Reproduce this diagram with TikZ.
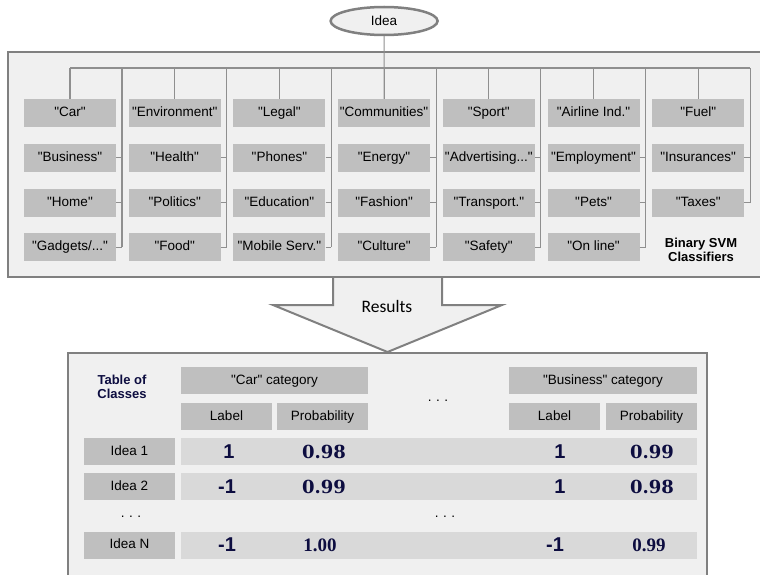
\documentclass[tikz,border=0pt]{standalone}
\usepackage{fontspec}
\setmainfont{Liberation Sans}
\newfontfamily\resfont{Carlito}
\newfontfamily\numfont{DejaVu Serif}
\newfontfamily\numfontb{Liberation Serif}
\usepackage{tikz}
\usetikzlibrary{positioning}
\usetikzlibrary{shapes.geometric}
\newcommand{\tdots}{...}
\newcommand{\qt}[1]{\textquotedbl#1\textquotedbl}
\definecolor{mgray}{rgb}{0.5, 0.5, 0.5}
\definecolor{mline}{rgb}{0.56, 0.56, 0.56}
\definecolor{mpanel}{rgb}{0.94, 0.94, 0.94}
\definecolor{mbox}{rgb}{0.75, 0.75, 0.75}
\definecolor{mband}{rgb}{0.85, 0.85, 0.85}
\definecolor{mnavy}{rgb}{0.05, 0.05, 0.25}
\tikzset{panel/.style = {draw=mgray, fill=mpanel, line width=2.5pt},
         tree/.style = {draw=mline, line width=1.1pt},
         catbox/.style = {fill=mbox, minimum width=92pt, minimum height=28pt,
                          inner sep=0pt, text height=10pt, text depth=3pt,
                          font=\fontsize{13.5}{15}\selectfont},
         tabbox/.style = {catbox, minimum width=91pt, minimum height=27pt},
         valband/.style = {fill=mband, minimum width=516pt, minimum height=27pt, inner sep=0pt},
         labnum/.style = {text=mnavy, font=\fontsize{20}{22}\selectfont\bfseries},
         probnum/.style = {text=mnavy, font=\fontsize{18}{20}\numfont\bfseries},
         dots/.style = {font=\fontsize{13.5}{15}\selectfont}}

\begin{document}
\begin{tikzpicture}[x=1pt, y=-1pt]
      \useasboundingbox (0, 0) rectangle (760, 575);

      % classifier panel
      \draw [panel] (8, 52) rectangle (780, 277);
      \node [ellipse, draw=mgray, fill=mpanel, line width=2.5pt, minimum width=107pt,
             minimum height=28pt, font=\fontsize{13.5}{15}\selectfont] (idea) at (384.1, 21) {Idea};

      \foreach \i/\a/\b/\c/\d [evaluate=\i as \cx using 70+(\i-1)*104.7] in
          {1/Car/Business/Home/{Gadgets/\tdots},
           2/Environment/Health/Politics/Food,
           3/Legal/Phones/Education/Mobile Serv.,
           4/Communities/Energy/Fashion/Culture,
           5/Sport/Advertising\tdots/Transport./Safety,
           6/Airline Ind./Employment/Pets/On line} {
        \coordinate (t\i) at (\cx+52, 68);
        \draw [tree] (t\i) -- (\cx+52, 247.4);
        \node [catbox] (c\i1) at (\cx, 113) {\qt{\a}};
        \node [catbox] (c\i2) at (\cx, 157.8) {\qt{\b}};
        \node [catbox] (c\i3) at (\cx, 202.6) {\qt{\c}};
        \node [catbox] (c\i4) at (\cx, 247.4) {\qt{\d}};
        \draw [tree] (c\i1.north) -- (c\i1.north |- t\i);
        \foreach \r in {2, 3, 4}
          \draw [tree] (c\i\r.east) -- (c\i\r.east -| t\i);
      }

      \coordinate (t7) at (750.2, 68);
      \node [catbox] (c71) at (698.2, 113) {\qt{Fuel}};
      \node [catbox] (c72) at (698.2, 157.8) {\qt{Insurances}};
      \node [catbox] (c73) at (698.2, 202.6) {\qt{Taxes}};
      \draw [tree] (t7) -- (t7 |- c73.east);
      \draw [tree] (c71.north) -- (c71.north |- t7);
      \foreach \r in {2, 3}
        \draw [tree] (c7\r.east) -- (c7\r.east -| t7);
      \draw [tree] (c11.north |- t1) -- (t7);
      \draw [tree] (idea.south) -- (c41.north);

      \node [align=center, font=\fontsize{13}{14}\selectfont\bfseries] (svm) at (701, 250)
            {Binary SVM\\Classifiers};

      % results
      \draw [panel] (68, 353) rectangle (707, 640);
      \draw [panel, line width=2pt] (333, 278) -- (333, 305) -- (273, 305) -- (387.5, 352)
            -- (502, 305) -- (442, 305) -- (442, 278);
      \node [font=\fontsize{17.5}{19}\resfont] (res) at (387, 306) {Results};

      % table
      \node [align=center, text=mnavy, font=\fontsize{13}{14}\selectfont\bfseries] (tab) at (122, 387)
            {Table of\\Classes};
      \node [tabbox, minimum width=187pt] (carhd) at (274.5, 380.5) {\qt{Car} category};
      \node [tabbox] (carlab) at (226.5, 416.5) {Label};
      \node [tabbox] (carprob) at (322.5, 416.5) {Probability};
      \node [tabbox, minimum width=188pt] (bushd) at (603, 380.5) {\qt{Business} category};
      \node [tabbox] (buslab) at (554.5, 416.5) {Label};
      \node [tabbox] (busprob) at (651.5, 416.5) {Probability};
      \node [dots] (dotsa) at (438, 401) {.\,\,.\,\,.};

      \node [tabbox] (idea1) at (129.5, 451.5) {Idea 1};
      \node [tabbox] (idea2) at (129.5, 486.5) {Idea 2};
      \node [dots] (dotsb) at (131, 517) {.\,\,.\,\,.};
      \node [dots] (dotsc) at (445, 517) {.\,\,.\,\,.};
      \node [tabbox] (idean) at (129.5, 545) {Idea N};
      \node [valband] (band1) at (439, 451.5) {};
      \node [valband] (band2) at (439, 486.5) {};
      \node [valband] (bandn) at (439, 545) {};

      \node [labnum] (v11) at (229, 451.5) {1};
      \node [probnum] (p11) at (324, 451.5) {0.98};
      \node [labnum] (v12) at (560, 451.5) {1};
      \node [probnum] (p12) at (652, 451.5) {0.99};
      \node [labnum] (v21) at (227, 486.5) {-1};
      \node [probnum] (p21) at (324, 486.5) {0.99};
      \node [labnum] (v22) at (560, 486.5) {1};
      \node [probnum] (p22) at (652, 486.5) {0.98};
      \node [labnum] (vn1) at (227, 545) {-1};
      \node [probnum, font=\fontsize{19}{20}\numfontb\bfseries] (pn1) at (320, 545) {1.00};
      \node [labnum] (vn2) at (555, 545) {-1};
      \node [probnum, font=\fontsize{19}{20}\numfontb\bfseries] (pn2) at (649, 545) {0.99};

    \end{tikzpicture}
\end{document}
